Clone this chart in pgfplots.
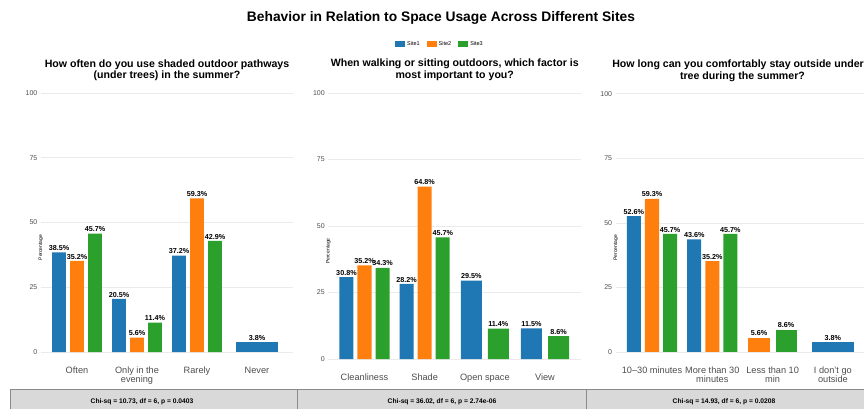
\documentclass[border=0pt]{standalone}
\usepackage{pgfplots}
\pgfplotsset{compat=1.18}
\usepackage{fontspec}
\setmainfont{Liberation Sans}

\definecolor{siteA}{HTML}{1F77B4}
\definecolor{siteB}{HTML}{FF7F0E}
\definecolor{siteC}{HTML}{2CA02C}
\definecolor{gridc}{HTML}{EBEBEB}
\definecolor{tickc}{HTML}{4D4D4D}
\definecolor{boxfill}{HTML}{D9D9D9}
\definecolor{boxline}{HTML}{8A8A8A}

\pgfplotsset{
  panel/.style={
    scale only axis,
    xmin=-0.6, xmax=3.6, ymin=-5, ymax=105,
    xtick={0,1,2,3}, ytick={0,25,50,75,100},
    axis line style={draw=none}, tick style={draw=none},
    ymajorgrids, grid style={draw=gridc, line width=0.5pt},
    /pgf/number format/assume math mode=true,
    yticklabel style={font=\fontsize{7}{7}\selectfont, text=tickc, anchor=east, inner sep=0pt, xshift=-3.5pt},
    xticklabel style={font=\fontsize{9.2}{8.8}\selectfont, text=tickc, anchor=north, inner sep=0pt, yshift=-1.5pt, align=center},
    ylabel={Percentage},
    every axis y label/.style={at={(axis description cs:0,0.5)}, rotate=90, anchor=center, xshift=-25pt, font=\fontsize{5}{6}\selectfont},
    title style={font=\fontsize{10.6}{11.5}\selectfont\bfseries, align=center, anchor=south, at={(axis description cs:0.5,1)}, yshift=-7pt, inner sep=0pt},
    nodes near coords={\pgfmathprintnumber[fixed,fixed zerofill,precision=1]{\pgfplotspointmeta}\%},
    every node near coord/.style={font=\fontsize{7.2}{8}\selectfont\bfseries, anchor=south, inner sep=0pt, yshift=1.5pt, text=black},
  },
  % dodged bars: three per category, two per category, or a single bar
  tri/.style={ybar, draw=none, fill=#1, bar width=0.2333, bar shift=0},
  duo/.style={ybar, draw=none, fill=#1, bar width=0.35, bar shift=0},
  solo/.style={ybar, draw=none, fill=#1, bar width=0.7, bar shift=0},
}

\begin{document}
\begin{tikzpicture}[x=1pt,y=1pt]
\useasboundingbox (0,0) rectangle (864,408);
\clip (0,0) rectangle (864,408);

\node[font=\fontsize{13.8}{15}\selectfont\bfseries, anchor=base] at (441,386) {Behavior in Relation to Space Usage Across Different Sites};

% Panel 1: shaded pathways
\begin{axis}[panel, at={(41pt,43pt)}, anchor=south west, width=252pt, height=285pt,
  title={How often do you use shaded outdoor pathways\\(under trees) in the summer?},
  xticklabels={Often, {Only in the\\evening}, Rarely, Never}]
\addplot[tri=siteA] table[x expr=\thisrow{c}-0.3, y=v, row sep=\\] {c v\\ 0 38.5\\ 1 20.5\\ 2 37.2\\};
\addplot[solo=siteA] table[x=c, y=v, row sep=\\] {c v\\ 3 3.8\\};
\addplot[tri=siteB] table[x=c, y=v, row sep=\\] {c v\\ 0 35.2\\ 1 5.6\\ 2 59.3\\};
\addplot[tri=siteC] table[x expr=\thisrow{c}+0.3, y=v, row sep=\\] {c v\\ 0 45.7\\ 1 11.4\\ 2 42.9\\};
\end{axis}

% Panel 2: most important factor
\begin{axis}[panel, at={(328.4pt,35.7pt)}, anchor=south west, width=252.7pt, height=292.6pt,
  title={When walking or sitting outdoors, which factor is\\most important to you?},
  xticklabels={Cleanliness, Shade, Open space, View},
  legend style={at={(0.4416,1.122)}, anchor=center, draw=none, fill=none, legend columns=3,
    font=\fontsize{5.5}{6}\selectfont, inner sep=0pt,
    /tikz/every even column/.append style={column sep=5pt}},
  legend cell align=left,
  legend image code/.code={\fill[#1] (0pt,-3pt) rectangle (10pt,3pt);}]
\addlegendimage{fill=siteA, draw=none}\addlegendentry{Site1}
\addlegendimage{fill=siteB, draw=none}\addlegendentry{Site2}
\addlegendimage{fill=siteC, draw=none}\addlegendentry{Site3}
\addplot[tri=siteA] table[x expr=\thisrow{c}-0.3, y=v, row sep=\\] {c v\\ 0 30.8\\ 1 28.2\\};
\addplot[duo=siteA] table[x expr=\thisrow{c}-0.225, y=v, row sep=\\] {c v\\ 2 29.5\\ 3 11.5\\};
\addplot[tri=siteB] table[x=c, y=v, row sep=\\] {c v\\ 0 35.2\\ 1 64.8\\};
\addplot[tri=siteC] table[x expr=\thisrow{c}+0.3, y=v, row sep=\\] {c v\\ 0 34.3\\ 1 45.7\\};
\addplot[duo=siteC] table[x expr=\thisrow{c}+0.225, y=v, row sep=\\] {c v\\ 2 11.4\\ 3 8.6\\};
\end{axis}

% Panel 3: time spent outside
\begin{axis}[panel, at={(615.8pt,43.1pt)}, anchor=south west, width=253.3pt, height=284.2pt,
  title={How long can you comfortably stay outside under a\\tree during the summer?},
  xticklabels={10--30 minutes, {More than 30\\minutes}, {Less than 10\\min}, {I don't go\\outside}}]
\addplot[tri=siteA] table[x expr=\thisrow{c}-0.3, y=v, row sep=\\] {c v\\ 0 52.6\\ 1 43.6\\};
\addplot[solo=siteA] table[x=c, y=v, row sep=\\] {c v\\ 3 3.8\\};
\addplot[tri=siteB] table[x=c, y=v, row sep=\\] {c v\\ 0 59.3\\ 1 35.2\\};
\addplot[duo=siteB] table[x expr=\thisrow{c}-0.225, y=v, row sep=\\] {c v\\ 2 5.6\\};
\addplot[tri=siteC] table[x expr=\thisrow{c}+0.3, y=v, row sep=\\] {c v\\ 0 45.7\\ 1 45.7\\};
\addplot[duo=siteC] table[x expr=\thisrow{c}+0.225, y=v, row sep=\\] {c v\\ 2 8.6\\};
\end{axis}

% chi-square test boxes
\draw[fill=boxfill, draw=boxline, line width=0.8pt] (10,-5) rectangle (297,19);
\draw[fill=boxfill, draw=boxline, line width=0.8pt] (297,-5) rectangle (586,19);
\draw[fill=boxfill, draw=boxline, line width=0.8pt] (586,-5) rectangle (880,19);
\node[font=\fontsize{6.7}{7}\selectfont\bfseries] at (142,6) {Chi-sq = 10.73, df = 6, p = 0.0403};
\node[font=\fontsize{6.7}{7}\selectfont\bfseries] at (442,6) {Chi-sq = 36.02, df = 6, p = 2.74e-06};
\node[font=\fontsize{6.7}{7}\selectfont\bfseries] at (724,6) {Chi-sq = 14.93, df = 6, p = 0.0208};
\end{tikzpicture}
\end{document}
